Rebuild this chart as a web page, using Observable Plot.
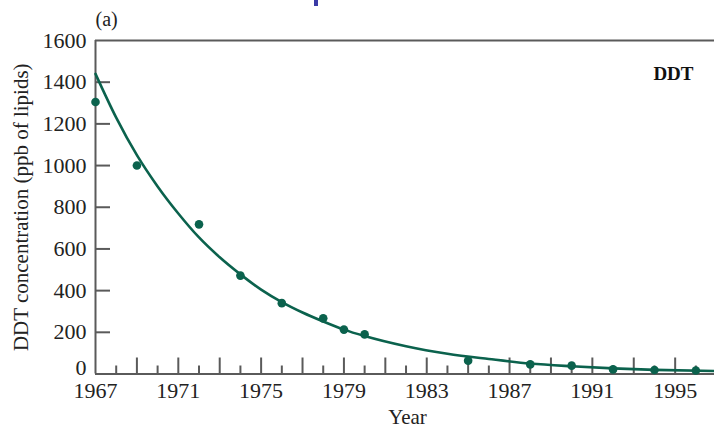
<!DOCTYPE html>
<html>
<head>
<meta charset="utf-8">
<script src="https://cdn.jsdelivr.net/npm/d3@7"></script>
<script src="https://cdn.jsdelivr.net/npm/@observablehq/plot@0.6"></script>
<style>
  body { margin: 0; background: #fff; }
  #wrap { position: relative; width: 714px; height: 429px; }
  #blip { position: absolute; left: 314px; top: 0; width: 4px; height: 6px; background: #3b3ba6; }
</style>
</head>
<body>
<div id="wrap"><div id="blip"></div></div>
<script>
// Measured DDT points
const obsYears  = [1967, 1969, 1972, 1974, 1976, 1978, 1979, 1980, 1985, 1988, 1990, 1992, 1994, 1996];
const obsValues = [1305, 1000, 718, 472, 340, 267, 213, 190, 64, 46, 40, 22, 19, 17];

// Fitted curve
const fitYears  = [1967, 1968, 1969, 1970, 1971, 1972, 1973, 1974, 1975, 1976, 1977, 1978, 1979, 1980, 1982, 1984, 1986, 1988, 1990, 1992, 1994, 1997];
const fitValues = [1440, 1230, 1050, 900, 770, 655, 560, 478, 405, 345, 295, 252, 213, 182, 133, 97, 72, 50, 37, 27, 20, 14];

// Axis ticks
const xTickLabels = [1967, 1971, 1975, 1979, 1983, 1987, 1991, 1995];
const xMajorTicks = [1969, 1971, 1973, 1975, 1977, 1979, 1981, 1983, 1985, 1987, 1989, 1991, 1993, 1995];
const xMinorTicks = [1968, 1970, 1972, 1974, 1976, 1978, 1980, 1982, 1984, 1986, 1988, 1990, 1992, 1994, 1996];
const yTickLabels = [200, 400, 600, 800, 1000, 1200, 1400, 1600];
const yZeroLabel  = [0];
const yInnerTicks = [200, 400, 600, 800, 1000, 1200, 1400];

const obs = obsYears.map((y, i) => ({year: y, value: obsValues[i]}));
const fit = fitYears.map((y, i) => ({year: y, value: fitValues[i]}));

const W = 714, H = 429;
const mL = 95, mR = 0, mT = 40, mB = 55.5;
const frameW = W - mL - mR, frameH = H - mT - mB;
const green = "#0b624d";
const axisColor = "#5a5a5a";
const serif = "'Liberation Serif', 'DejaVu Serif', serif";

const chart = Plot.plot({
  width: W, height: H,
  marginLeft: mL, marginRight: mR, marginTop: mT, marginBottom: mB,
  style: {fontFamily: serif, fontSize: "21px", color: "#222", background: "white", overflow: "visible"},
  x: {domain: [1967, 1996.9]},
  y: {domain: [0, 1600]},
  marks: [
    Plot.axisX(xTickLabels, {tickSize: 0, tickPadding: 8, tickFormat: d => String(d), label: null, fontSize: 22}),
    Plot.axisY(yTickLabels, {tickSize: 0, tickPadding: 9, tickFormat: d => String(d), label: null, fontSize: 22}),
    Plot.axisY(yZeroLabel, {tickSize: 0, tickPadding: 9, tickFormat: d => String(d), label: null, fontSize: 22, dy: -6}),
    // inward tick marks
    Plot.tickX(xMajorTicks, {x: d => d, insetTop: frameH - 16, stroke: axisColor, strokeWidth: 2}),
    Plot.tickX(xMinorTicks, {x: d => d, insetTop: frameH - 8, stroke: axisColor, strokeWidth: 2}),
    Plot.tickY(yInnerTicks, {y: d => d, insetRight: frameW - 15, stroke: axisColor, strokeWidth: 2}),
    // frame lines (left, top, bottom)
    Plot.ruleX([1967], {stroke: axisColor, strokeWidth: 2}),
    Plot.ruleY([0], {stroke: axisColor, strokeWidth: 2}),
    Plot.ruleY([1600], {stroke: axisColor, strokeWidth: 2}),
    // fitted curve and data
    Plot.line(fit, {x: "year", y: "value", stroke: green, strokeWidth: 2.6, curve: "monotone-x"}),
    Plot.dot(obs, {x: "year", y: "value", r: 4.3, fill: green, stroke: "none"}),
    // annotations
    Plot.text(["DDT"], {frameAnchor: "top-right", textAnchor: "end", lineAnchor: "middle", dx: -21, dy: 33, fontWeight: "bold", fontSize: 19, fill: "#111"}),
    Plot.text(["(a)"], {frameAnchor: "top-left", textAnchor: "start", lineAnchor: "middle", dx: 0, dy: -21, fontSize: 20, fill: "#222"}),
    Plot.text(["Year"], {frameAnchor: "bottom", textAnchor: "middle", lineAnchor: "middle", dx: 2.5, dy: 43.5, fontSize: 21, fill: "#222"}),
    Plot.text(["DDT concentration (ppb of lipids)"], {frameAnchor: "left", textAnchor: "middle", rotate: -90, lineAnchor: "middle", dx: -74, dy: 0, fontSize: 21, fill: "#222"})
  ]
});
document.getElementById("wrap").appendChild(chart);
</script>
</body>
</html>
